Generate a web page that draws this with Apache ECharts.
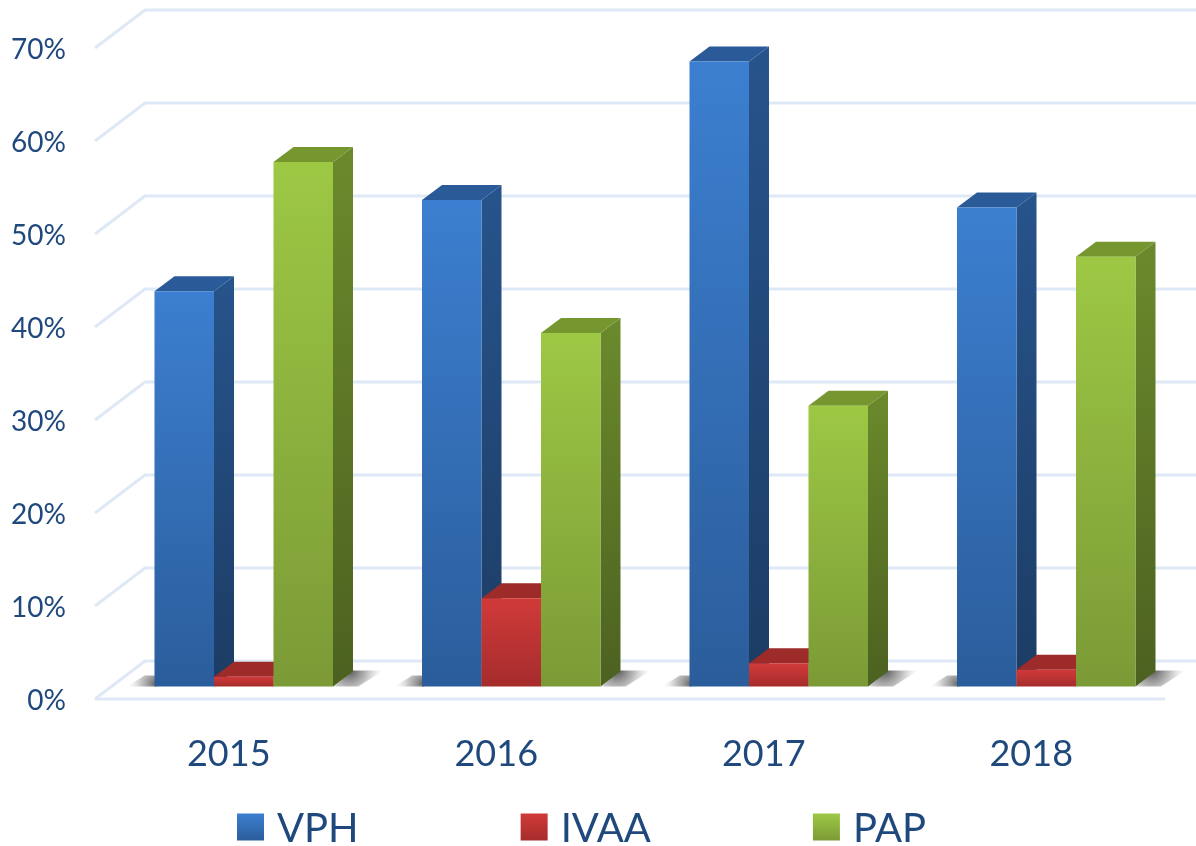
<!DOCTYPE html>
<html><head><meta charset="utf-8">
<style>html,body{margin:0;padding:0;background:#fff}#c{width:1196px;height:846px}</style>
<script src="https://cdn.jsdelivr.net/npm/echarts@6/dist/echarts.min.js"></script>
</head><body><div id="c"></div>
<script>
const categories = ['2015','2016','2017','2018'];
const VPH  = [42.5, 52.3, 67.2, 51.5];
const IVAA = [1.05, 9.5, 2.5, 1.8];
const PAP  = [56.4, 38.0, 30.2, 46.2];
const ticks = [0,10,20,30,40,50,60,70];
const textColor = '#1f497d';
const font = 'Lato';

function grad(a,b){ return new echarts.graphic.LinearGradient(0,0,0,1,[{offset:0,color:a},{offset:1,color:b}]); }
function shadowFill(x,y,r,a){
  return new echarts.graphic.RadialGradient(x,y,r,[
    {offset:0,color:'rgba(45,45,45,'+a+')'},
    {offset:0.5,color:'rgba(100,100,100,'+(a*0.55)+')'},
    {offset:1,color:'rgba(190,190,190,0)'}],true);
}

const BAR_W = 59.5, DX = 20, DY = -15, OX = 15, OY = -12.5;

function barSeries(name, idx, data, c){
  return {
    name, type:'custom', z:5+idx, clip:false,
    itemStyle:{color:grad(c.f0,c.f1)},
    data:data.map((v,i)=>[i,v]),
    encode:{x:0,y:1},
    renderItem(params, api){
      const p = api.coord([api.value(0), api.value(1)]);
      const b = api.coord([api.value(0), 0]);
      const l = p[0] - BAR_W*1.5 + OX + idx*BAR_W;
      const r = l + BAR_W, t = p[1]+OY, g = b[1]+OY;
      return {type:'group',children:[
        {type:'polygon',shape:{points:[[r,t],[r+DX,t+DY],[r+DX,g+DY],[r,g]]},style:{fill:grad(c.s0,c.s1)}},
        {type:'polygon',shape:{points:[[l,t],[l+DX,t+DY],[r+DX,t+DY],[r,t]]},style:{fill:c.t}},
        {type:'rect',shape:{x:l,y:t,width:BAR_W,height:g-t},style:{fill:grad(c.f0,c.f1)}}
      ]};
    }
  };
}

const blue = {f0:'#3c7fd0',f1:'#2b5d9b',s0:'#27548c',s1:'#1c3c64',t:'#2a5a97'};
const red  = {f0:'#d03a39',f1:'#a62c2c',s0:'#8f2626',s1:'#7a2020',t:'#9c2b2a'};
const green= {f0:'#9dc844',f1:'#7b9a36',s0:'#6b8a2c',s1:'#4c6120',t:'#76962f'};

const option = {
  animation:false,
  backgroundColor:'#fff',
  textStyle:{fontFamily:font},
  grid:{left:95,top:48,width:1070,height:651,containLabel:false},
  xAxis:{type:'category',data:categories,
    axisLine:{show:false},axisTick:{show:false},splitLine:{show:false},
    axisLabel:{color:textColor,fontFamily:font,fontSize:36,margin:37}},
  yAxis:{type:'value',min:0,max:70,interval:10,
    axisLine:{show:false},axisTick:{show:false},splitLine:{show:false},
    axisLabel:{margin:29,formatter:v=>'{a|'+v+'%}',
      rich:{a:{color:textColor,fontFamily:font,fontSize:28,padding:[4,0,0,0]}}}},
  legend:{left:237,top:809,itemWidth:27,itemHeight:27,itemGap:162,icon:'rect',padding:0,
    formatter:n=>'{a|'+n+'}',
    textStyle:{color:textColor,fontFamily:font,fontSize:40,
      rich:{a:{color:textColor,fontFamily:font,fontSize:40,padding:[4,0,0,8]}}},
    data:[
      {name:'VPH',itemStyle:{color:grad(blue.f0,blue.f1)}},
      {name:'IVAA',itemStyle:{color:grad(red.f0,red.f1)}},
      {name:'PAP',itemStyle:{color:grad(green.f0,green.f1)}}
    ]},
  series:[
    {type:'custom',z:1,silent:true,clip:false,data:ticks.map(v=>[v]),encode:{y:0},
      renderItem(params,api){
        const v = api.value(0);
        const p = api.coord([0,v]);
        const x0 = api.coord([0,0])[0] - api.size([1,0])[0]/2;
        const pts = [[x0,p[1]],[x0+50,p[1]-38],[1196,p[1]-38]];
        const line = {stroke:'#dfe8f6',lineWidth:3,fill:null};
        const kids = [{type:'polyline',shape:{points:pts},style:line}];
        if(v===0) kids.push({type:'line',shape:{x1:x0,y1:p[1],x2:1165,y2:p[1]},style:line});
        return {type:'group',children:kids};
      }},
    {type:'custom',z:2,silent:true,clip:false,data:categories.map((c,i)=>[i]),encode:{x:0},
      renderItem(params,api){
        const c = api.coord([api.value(0),0]);
        const g = c[1]+OY;
        const l = c[0]-74, r = l+BAR_W*3;
        return {type:'group',children:[
          {type:'polygon',shape:{points:[[l-28,g],[l-10,g-11],[l+2,g-11],[l+2,g]]},
            style:{fill:shadowFill(l,g-3,27,0.7)}},
          {type:'polygon',shape:{points:[[r,g],[r+DX,g+DY-1],[r+50,g+DY-1],[r+25,g]]},
            style:{fill:shadowFill(r+16,g-17,34,0.85)}}
        ]};
      }},
    barSeries('VPH',0,VPH,blue),
    barSeries('IVAA',1,IVAA,red),
    barSeries('PAP',2,PAP,green)
  ]
};
echarts.init(document.getElementById('c'),null,{renderer:'canvas'}).setOption(option);
</script></body></html>
